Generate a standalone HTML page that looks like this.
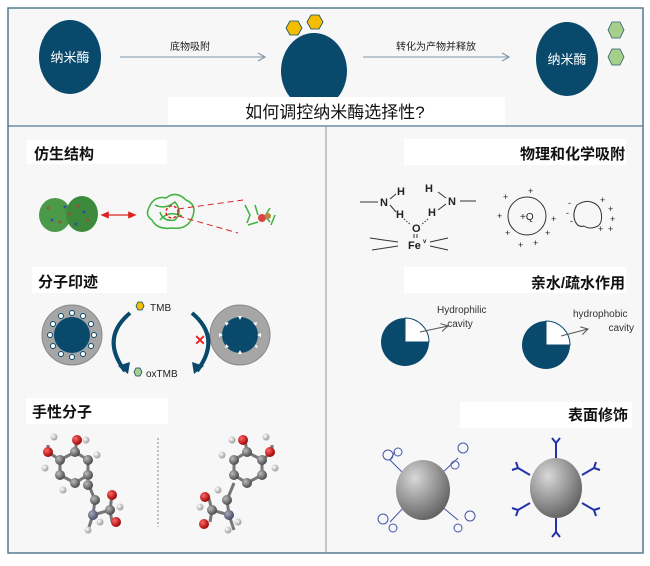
<!DOCTYPE html>
<html><head><meta charset="utf-8"><style>
body{margin:0;background:#fff}
svg text{font-family:"Liberation Sans","Noto Sans CJK SC",sans-serif}
</style></head><body>
<svg width="650" height="561" viewBox="0 0 650 561" xmlns="http://www.w3.org/2000/svg">
<defs>
<radialGradient id="sph" cx="0.35" cy="0.3" r="0.75"><stop offset="0" stop-color="#d8d8d8"/><stop offset="0.5" stop-color="#9c9c9c"/><stop offset="1" stop-color="#606060"/></radialGradient>
<radialGradient id="gb" cx="0.35" cy="0.35" r="0.7"><stop offset="0" stop-color="#bbb"/><stop offset="1" stop-color="#444"/></radialGradient>
<radialGradient id="rb" cx="0.35" cy="0.35" r="0.7"><stop offset="0" stop-color="#f66"/><stop offset="1" stop-color="#900"/></radialGradient>
<radialGradient id="wb" cx="0.35" cy="0.35" r="0.7"><stop offset="0" stop-color="#fff"/><stop offset="1" stop-color="#999"/></radialGradient>
<radialGradient id="nb" cx="0.35" cy="0.35" r="0.7"><stop offset="0" stop-color="#aab"/><stop offset="1" stop-color="#446"/></radialGradient>
<marker id="ar" markerWidth="10" markerHeight="10" refX="8" refY="5" orient="auto"><path d="M1,1 L8,5 L1,9" fill="none" stroke="#7f97aa" stroke-width="1.2"/></marker>
<marker id="ar2" markerWidth="10" markerHeight="10" refX="8" refY="5" orient="auto"><path d="M1,1 L8,5 L1,9" fill="none" stroke="#555" stroke-width="1"/></marker>
<marker id="rd" markerWidth="8" markerHeight="8" refX="4" refY="4" orient="auto-start-reverse"><path d="M0,1 L7,4 L0,7z" fill="#d22"/></marker>
</defs>
<rect x="8" y="8" width="635" height="545" fill="#f7f7f7" stroke="#567a91" stroke-width="1.5"/>
<line x1="8" y1="126" x2="643" y2="126" stroke="#567a91" stroke-width="1.2"/>
<line x1="326" y1="126" x2="326" y2="553" stroke="#8a9aa6" stroke-width="1"/>

<!-- top -->
<ellipse cx="70" cy="57" rx="31" ry="37" fill="#08496c"/>
<text x="70" y="62" fill="#fff" font-size="13" text-anchor="middle">纳米酶</text>
<line x1="120" y1="57" x2="265" y2="57" stroke="#7f97aa" stroke-width="1" marker-end="url(#ar)"/>
<text x="190" y="50" font-size="10" text-anchor="middle" fill="#222">底物吸附</text>
<ellipse cx="314" cy="71" rx="33" ry="38" fill="#08496c"/>
<polygon points="286,28 290,21 298,21 302,28 298,35 290,35" fill="#f5bd00" stroke="#0a496c" stroke-width="0.8"/>
<polygon points="307,22 311,15 319,15 323,22 319,29 311,29" fill="#f5bd00" stroke="#0a496c" stroke-width="0.8"/>
<line x1="363" y1="57" x2="509" y2="57" stroke="#7f97aa" stroke-width="1" marker-end="url(#ar)"/>
<text x="436" y="50" font-size="10" text-anchor="middle" fill="#222">转化为产物并释放</text>
<ellipse cx="567" cy="59" rx="31" ry="37" fill="#08496c"/>
<text x="567" y="64" fill="#fff" font-size="13" text-anchor="middle">纳米酶</text>
<polygon points="608,30 612,22 620,22 624,30 620,38 612,38" fill="#a6cf8a" stroke="#2a5a70" stroke-width="0.8"/>
<polygon points="608,57 612,49 620,49 624,57 620,65 612,65" fill="#a6cf8a" stroke="#2a5a70" stroke-width="0.8"/>
<rect x="168" y="97" width="337" height="28" fill="#fff"/>
<text x="335" y="118" font-size="17" text-anchor="middle" fill="#111">如何调控纳米酶选择性?</text>

<!-- headings -->
<rect x="27" y="140" width="140" height="24" fill="#fff"/>
<text x="34" y="159" font-size="15" font-weight="bold" fill="#111">仿生结构</text>
<rect x="32" y="267" width="135" height="26" fill="#fff"/>
<text x="38" y="287" font-size="15" font-weight="bold" fill="#111">分子印迹</text>
<rect x="26" y="398" width="142" height="26" fill="#fff"/>
<text x="32" y="417" font-size="15" font-weight="bold" fill="#111">手性分子</text>
<rect x="404" y="139" width="222" height="26" fill="#fff"/>
<text x="625" y="159" font-size="15" font-weight="bold" fill="#111" text-anchor="end">物理和化学吸附</text>
<rect x="404" y="267" width="222" height="26" fill="#fff"/>
<text x="625" y="288" font-size="15" font-weight="bold" fill="#111" text-anchor="end">亲水/疏水作用</text>
<rect x="460" y="402" width="172" height="26" fill="#fff"/>
<text x="628" y="420" font-size="15" font-weight="bold" fill="#111" text-anchor="end">表面修饰</text>

<!-- bionic -->
<g>
<ellipse cx="55" cy="215" rx="16" ry="17" fill="#4a9a4a"/>
<ellipse cx="82" cy="214" rx="16" ry="18" fill="#3d8a3d"/>
<g fill="#c33" opacity="0.7"><circle cx="48" cy="208" r="1.5"/><circle cx="60" cy="222" r="1.5"/><circle cx="78" cy="206" r="1.5"/><circle cx="88" cy="220" r="1.5"/><circle cx="70" cy="214" r="1.5"/></g>
<g fill="#33c" opacity="0.7"><circle cx="52" cy="220" r="1.5"/><circle cx="65" cy="207" r="1.5"/><circle cx="84" cy="212" r="1.5"/><circle cx="76" cy="224" r="1.5"/></g>
</g>
<line x1="104" y1="215" x2="133" y2="215" stroke="#d22" stroke-width="1.2" marker-start="url(#rd)" marker-end="url(#rd)"/>
<g fill="none" stroke="#3cb33c" stroke-width="1.5">
<path d="M148,210 q5,-15 18,-12 q10,-8 20,2 q12,5 6,18 q-5,12 -20,10 q-15,2 -20,-8 q-6,-4 -4,-10z"/>
<path d="M155,205 q10,5 20,-3 q8,10 0,18 q-12,2 -15,-8"/>
<path d="M160,220 q8,-10 22,-4"/>
</g>
<circle cx="172" cy="212" r="6" fill="none" stroke="#d22" stroke-width="1.5" stroke-dasharray="3,2"/>
<line x1="178" y1="209" x2="243" y2="200" stroke="#d22" stroke-width="1" stroke-dasharray="6,4"/>
<line x1="178" y1="216" x2="238" y2="233" stroke="#d22" stroke-width="1" stroke-dasharray="6,4"/>
<g stroke="#3cb33c" stroke-width="1.5" fill="none"><path d="M245,205 l5,10 l-3,8 M255,205 l3,10 M270,208 l-5,8 l5,6 M275,215 l-4,10 M248,225 l10,-3"/></g>
<circle cx="262" cy="218" r="4" fill="#d44"/><circle cx="268" cy="216" r="3" fill="#b84"/>

<!-- imprint -->
<circle cx="72" cy="335" r="30" fill="#a6a6a6" stroke="#888"/>
<circle cx="72" cy="335" r="18" fill="#08496c"/>
<g fill="#fff" stroke="#08496c" stroke-width="1">
<circle cx="72" cy="313" r="2.5"/><circle cx="83" cy="316" r="2.5"/><circle cx="91" cy="324" r="2.5"/><circle cx="94" cy="335" r="2.5"/><circle cx="91" cy="346" r="2.5"/><circle cx="83" cy="354" r="2.5"/><circle cx="72" cy="357" r="2.5"/><circle cx="61" cy="354" r="2.5"/><circle cx="53" cy="346" r="2.5"/><circle cx="50" cy="335" r="2.5"/><circle cx="53" cy="324" r="2.5"/><circle cx="61" cy="316" r="2.5"/>
</g>
<circle cx="240" cy="335" r="30" fill="#a6a6a6" stroke="#888"/>
<circle cx="240" cy="335" r="18" fill="#08496c"/>
<g fill="#fff"><polygon points="238,316 242,316 240,320"/><polygon points="225,322 229,323 226,326"/><polygon points="253,323 257,322 256,326"/><polygon points="219,333 219,337 223,335"/><polygon points="261,333 261,337 257,335"/><polygon points="225,348 229,347 226,344"/><polygon points="255,347 258,348 256,344"/><polygon points="238,354 242,354 240,350"/></g>
<path d="M130,313 q-30,25 -5,58" fill="none" stroke="#08496c" stroke-width="4"/>
<polygon points="118,366 128,374 130,362" fill="#08496c"/>
<path d="M192,313 q30,25 5,58" fill="none" stroke="#08496c" stroke-width="4"/>
<polygon points="204,366 194,374 192,362" fill="#08496c"/>
<text x="200" y="345" font-size="14" fill="#e22" font-weight="bold" text-anchor="middle">✕</text>
<polygon points="136,306 138,302 142,302 144,306 142,310 138,310" fill="#f5bd00" stroke="#0a496c" stroke-width="0.8"/>
<text x="150" y="311" font-size="10" fill="#222">TMB</text>
<polygon points="134,372 136,368 140,368 142,372 140,376 136,376" fill="#a6cf8a" stroke="#0a496c" stroke-width="0.8"/>
<text x="146" y="377" font-size="10" fill="#222">oxTMB</text>

<!-- chirality -->
<line x1="158" y1="438" x2="158" y2="527" stroke="#888" stroke-dasharray="2,2"/>
<g stroke="#777" stroke-width="3" fill="none">
<path d="M48,452 L60,460 L75,452 L88,460 L88,475 L75,483 L60,475 L60,460 M75,452 L77,440 M48,452 L48,445 M88,483 L95,500 L93,515 L88,530 M93,515 L110,510 L112,522 M110,510 L112,495"/>
<path d="M272,452 L262,460 L247,452 L234,460 L234,475 L247,483 L262,475 L262,460 M247,452 L245,440 M272,452 L272,445 M234,483 L227,500 L229,515 L234,530 M229,515 L212,510 L210,522 M212,510 L208,495"/>
</g>
<g>
<circle cx="60" cy="460" r="5" fill="url(#gb)"/><circle cx="75" cy="452" r="5" fill="url(#gb)"/><circle cx="88" cy="460" r="5" fill="url(#gb)"/><circle cx="88" cy="475" r="5" fill="url(#gb)"/><circle cx="75" cy="483" r="5" fill="url(#gb)"/><circle cx="60" cy="475" r="5" fill="url(#gb)"/><circle cx="88" cy="485" r="5" fill="url(#gb)"/><circle cx="95" cy="500" r="5" fill="url(#gb)"/><circle cx="110" cy="510" r="5" fill="url(#gb)"/>
<circle cx="48" cy="452" r="5" fill="url(#rb)"/><circle cx="77" cy="440" r="5" fill="url(#rb)"/><circle cx="112" cy="495" r="5" fill="url(#rb)"/><circle cx="116" cy="522" r="5" fill="url(#rb)"/>
<circle cx="93" cy="515" r="5" fill="url(#nb)"/>
<circle cx="45" cy="468" r="3.5" fill="url(#wb)"/><circle cx="54" cy="437" r="3.5" fill="url(#wb)"/><circle cx="86" cy="440" r="3.5" fill="url(#wb)"/><circle cx="97" cy="455" r="3.5" fill="url(#wb)"/><circle cx="63" cy="490" r="3.5" fill="url(#wb)"/><circle cx="88" cy="530" r="3.5" fill="url(#wb)"/><circle cx="100" cy="522" r="3.5" fill="url(#wb)"/><circle cx="120" cy="507" r="3.5" fill="url(#wb)"/>
<circle cx="262" cy="460" r="5" fill="url(#gb)"/><circle cx="247" cy="452" r="5" fill="url(#gb)"/><circle cx="234" cy="460" r="5" fill="url(#gb)"/><circle cx="234" cy="475" r="5" fill="url(#gb)"/><circle cx="247" cy="483" r="5" fill="url(#gb)"/><circle cx="262" cy="475" r="5" fill="url(#gb)"/><circle cx="227" cy="500" r="5" fill="url(#gb)"/><circle cx="212" cy="510" r="5" fill="url(#gb)"/>
<circle cx="270" cy="452" r="5" fill="url(#rb)"/><circle cx="243" cy="440" r="5" fill="url(#rb)"/><circle cx="204" cy="524" r="5" fill="url(#rb)"/><circle cx="205" cy="497" r="5" fill="url(#rb)"/>
<circle cx="229" cy="515" r="5" fill="url(#nb)"/>
<circle cx="275" cy="468" r="3.5" fill="url(#wb)"/><circle cx="266" cy="437" r="3.5" fill="url(#wb)"/><circle cx="232" cy="440" r="3.5" fill="url(#wb)"/><circle cx="222" cy="455" r="3.5" fill="url(#wb)"/><circle cx="218" cy="490" r="3.5" fill="url(#wb)"/><circle cx="228" cy="530" r="3.5" fill="url(#wb)"/><circle cx="238" cy="522" r="3.5" fill="url(#wb)"/><circle cx="200" cy="507" r="3.5" fill="url(#wb)"/>
</g>

<!-- adsorption -->
<g font-size="11" fill="#222" font-weight="bold" font-family="Liberation Sans">
<line x1="360" y1="202" x2="378" y2="202" stroke="#333"/>
<text x="380" y="206">N</text><text x="397" y="195">H</text><text x="396" y="218">H</text>
<text x="425" y="192">H</text><text x="448" y="205">N</text><text x="428" y="216">H</text>
<line x1="460" y1="201" x2="476" y2="201" stroke="#333"/>
<line x1="390" y1="199" x2="396" y2="194" stroke="#333"/><line x1="390" y1="205" x2="396" y2="212" stroke="#333"/>
<line x1="438" y1="192" x2="446" y2="198" stroke="#333"/><line x1="438" y1="210" x2="446" y2="204" stroke="#333"/>
<text x="412" y="232">O</text><text x="408" y="249">Fe</text><text x="423" y="243" font-size="6">v</text>
<line x1="404" y1="219" x2="411" y2="225" stroke="#333" stroke-dasharray="1.5,1.5"/><line x1="428" y1="219" x2="421" y2="225" stroke="#333" stroke-dasharray="1.5,1.5"/>
<line x1="414" y1="234" x2="414" y2="238" stroke="#333"/><line x1="417" y1="234" x2="417" y2="238" stroke="#333"/>
<path d="M398,242 L370,238 M398,246 L372,250 M430,242 L448,238 M430,246 L448,250" stroke="#333"/>
</g>
<circle cx="527" cy="216" r="19" fill="none" stroke="#333"/>
<text x="520" y="220" font-size="10" fill="#222">+Q</text>
<g font-size="9" fill="#222"><text x="503" y="200">+</text><text x="528" y="194">+</text><text x="497" y="219">+</text><text x="551" y="222">+</text><text x="505" y="236">+</text><text x="518" y="248">+</text><text x="533" y="246">+</text><text x="545" y="236">+</text>
<text x="600" y="203">+</text><text x="608" y="212">+</text><text x="610" y="222">+</text><text x="608" y="232">+</text><text x="598" y="232">+</text><text x="568" y="206">-</text><text x="566" y="216">-</text><text x="570" y="224">-</text></g>
<path d="M577,205 q8,-5 14,-3 q8,2 10,10 q2,10 -3,14 q-8,4 -14,0 q-6,2 -9,-5 q-3,-8 2,-16z" fill="none" stroke="#333"/>

<!-- hydro -->
<circle cx="405" cy="342" r="24" fill="#08496c"/>
<path d="M405,342 L405,318 A24,24 0 0 1 429,342 Z" fill="#fff" stroke="#08496c"/>
<line x1="420" y1="332" x2="448" y2="326" stroke="#555" marker-end="url(#ar2)"/>
<text x="437" y="313" font-size="10" fill="#333">Hydrophilic</text>
<text x="460" y="327" font-size="10" fill="#333" text-anchor="middle">cavity</text>
<circle cx="546" cy="345" r="24" fill="#08496c"/>
<path d="M546,345 L546,321 A24,24 0 0 1 570,345 Z" fill="#fff" stroke="#08496c"/>
<line x1="561" y1="336" x2="588" y2="329" stroke="#555" marker-end="url(#ar2)"/>
<text x="573" y="317" font-size="10" fill="#333">hydrophobic</text>
<text x="634" y="331" font-size="10" fill="#333" text-anchor="end">cavity</text>

<!-- surface -->
<g fill="none" stroke="#4455aa" stroke-width="1">
<path d="M405,475 L390,460 L395,452"/><circle cx="388" cy="455" r="5"/><circle cx="398" cy="452" r="4"/>
<path d="M440,475 L458,458"/><circle cx="463" cy="448" r="5"/><circle cx="455" cy="465" r="4"/>
<path d="M405,506 L390,522"/><circle cx="383" cy="519" r="5"/><circle cx="393" cy="528" r="4"/>
<path d="M440,505 L458,520"/><circle cx="470" cy="516" r="5"/><circle cx="458" cy="528" r="4"/>
</g>
<ellipse cx="423" cy="490" rx="27" ry="30" fill="url(#sph)"/>
<g stroke="#2233aa" stroke-width="2" fill="none">
<path d="M556,458 L556,443 M556,443 l-4,-5 M556,443 l4,-5"/>
<path d="M556,518 L556,532 M556,532 l-4,5 M556,532 l4,5"/>
<path d="M530,475 L518,468 M518,468 l-2,-6 M518,468 l-6,2"/>
<path d="M582,475 L594,468 M594,468 l2,-6 M594,468 l6,2"/>
<path d="M530,503 L518,510 M518,510 l-6,-2 M518,510 l-2,6"/>
<path d="M582,503 L594,510 M594,510 l6,-2 M594,510 l2,6"/>
</g>
<ellipse cx="556" cy="488" rx="26" ry="30" fill="url(#sph)"/>
</svg>
</body></html>
